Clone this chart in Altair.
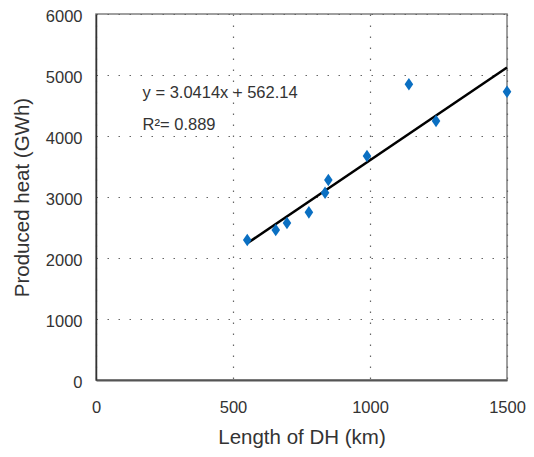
import altair as alt
import pandas as pd

length_km = [552, 656, 697, 777, 836, 848, 989, 1142, 1241, 1500]
heat_gwh = [2295, 2459, 2574, 2749, 3070, 3279, 3672, 4848, 4246, 4726]

slope = 3.0414
intercept = 562.14
eq_text = ["y = 3.0414x + 562.14", "R\u00b2= 0.889"]

x_ticks = [0, 500, 1000, 1500]
y_ticks = [0, 1000, 2000, 3000, 4000, 5000, 6000]

pts = pd.DataFrame({"x": length_km, "y": heat_gwh})
xmin, xmax = min(length_km), max(length_km)
fit = pd.DataFrame({"x": [xmin, xmax], "y": [slope * xmin + intercept, slope * xmax + intercept]})
ann = pd.DataFrame({"x": [170, 170], "y": [4700, 4180], "t": eq_text})

FONT = "Liberation Sans"
xs = alt.Scale(domain=[0, 1500], nice=False, zero=False)
ys = alt.Scale(domain=[0, 6000], nice=False)

xaxis = alt.Axis(
    values=x_ticks, format="d", title="Length of DH (km)", grid=True, gridDash=[1.5, 9.5],
    gridColor="#666", gridWidth=1.2, tickSize=0, labelPadding=19, labelFontSize=16.5,
    labelColor="#333", labelFont=FONT, titleFont=FONT, titleFontSize=20.5,
    titleFontWeight="normal", titleColor="#333", titlePadding=12,
    domainColor="#555", domainWidth=2, labelFlush=False,
)
yaxis = alt.Axis(
    values=y_ticks, format="d", title="Produced heat (GWh)", grid=True, gridDash=[1.5, 9.5],
    gridColor="#666", gridWidth=1.2, tickSize=0, labelPadding=14, labelFontSize=16.5,
    labelOffset=2, labelColor="#333", labelFont=FONT, titleFont=FONT, titleFontSize=20.5,
    titleFontWeight="normal", titleColor="#333", titleX=-64,
    domainColor="#333", domainWidth=1.5,
)

points = alt.Chart(pts).mark_point(
    shape="M0,-1L0.68,0L0,1L-0.68,0Z", filled=True, color="#0A6FC2", size=160, opacity=1
).encode(x=alt.X("x:Q", scale=xs, axis=xaxis), y=alt.Y("y:Q", scale=ys, axis=yaxis))

line = alt.Chart(fit).mark_line(color="black", strokeWidth=2.5).encode(
    x=alt.X("x:Q", scale=xs), y=alt.Y("y:Q", scale=ys)
)

text = alt.Chart(ann).mark_text(
    align="left", baseline="middle", font=FONT, fontSize=16.5, color="#333"
).encode(x=alt.X("x:Q", scale=xs), y=alt.Y("y:Q", scale=ys), text="t:N")

chart = alt.layer(line, points, text).properties(
    width=411, height=366,
    autosize=alt.AutoSizeParams(type="none"),
    padding={"left": 88, "top": 6, "right": 19, "bottom": 69},
).configure_view(stroke="#808080", strokeWidth=1.5)

chart.save("out.html", embed_options={"renderer": "svg", "actions": False})
